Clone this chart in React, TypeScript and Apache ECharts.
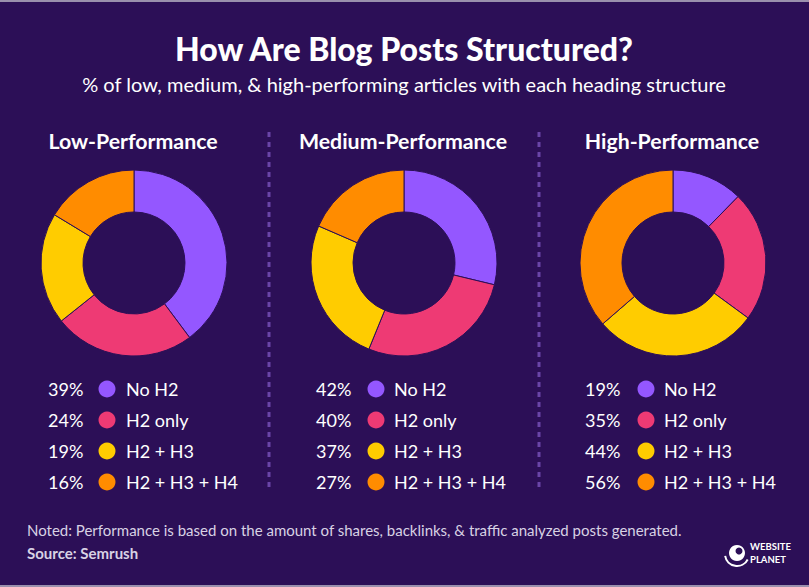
import React, { useEffect, useRef } from "react";
import * as echarts from "echarts";

const categories = ["No H2", "H2 only", "H2 + H3", "H2 + H3 + H4"];
const groups = ["Low-Performance", "Medium-Performance", "High-Performance"];
const lowValues = [39, 24, 19, 16];
const mediumValues = [42, 40, 37, 27];
const highValues = [19, 35, 44, 56];
const colors = ["#9457ff", "#ee3a74", "#ffcc00", "#ff8c00"];

const title = "How Are Blog Posts Structured?";
const subtitle = "% of low, medium, & high-performing articles with each heading structure";
const note = "Noted: Performance is based on the amount of shares, backlinks, & traffic analyzed posts generated.";
const source = "Source: Semrush";

const BG = "#2c0f57";
const FONT = "Lato, 'Noto Sans', sans-serif";

export default function App() {
  const ref = useRef<HTMLDivElement>(null);
  useEffect(() => {
    if (!ref.current) return;
    const chart = echarts.init(ref.current, undefined, { renderer: "svg" });
    const allValues = [lowValues, mediumValues, highValues];
    const centersX = [134, 404, 673];
    const legendX = [
      { pct: 48, dot: 107, label: 126 },
      { pct: 316, dot: 376, label: 394 },
      { pct: 585, dot: 646, label: 664 },
    ];
    const rowY = [389, 420, 451, 482];

    const series: any[] = allValues.map((vals, gi) => ({
      type: "pie",
      center: [centersX[gi], 263],
      radius: [51, 93],
      startAngle: 90,
      clockwise: true,
      silent: true,
      label: { show: false },
      labelLine: { show: false },
      itemStyle: { borderColor: BG, borderWidth: 1 },
      data: vals.map((v, i) => ({ name: categories[i], value: v, itemStyle: { color: colors[i] } })),
    }));

    const graphics: any[] = [
      { type: "rect", shape: { x: 0, y: 0, width: 809, height: 2 }, style: { fill: "#9a90ad" } },
      { type: "rect", shape: { x: 0, y: 585, width: 809, height: 2 }, style: { fill: "#9a90ad" } },
      {
        type: "text", x: 404, y: 48,
        style: { text: title, fill: "#ffffff", font: `900 32px ${FONT}`, align: "center", verticalAlign: "middle" },
      },
      {
        type: "text", x: 404, y: 84,
        style: { text: subtitle, fill: "#ffffff", font: `400 20px ${FONT}`, align: "center", verticalAlign: "middle" },
      },
      {
        type: "text", x: 27, y: 530,
        style: { text: note, fill: "#d8d2e4", font: `400 15px ${FONT}`, align: "left", verticalAlign: "middle" },
      },
      {
        type: "text", x: 27, y: 553,
        style: { text: source, fill: "#d8d2e4", font: `700 15px ${FONT}`, align: "left", verticalAlign: "middle" },
      },
    ];

    [269, 539].forEach((x) => {
      graphics.push({
        type: "line",
        shape: { x1: x, y1: 132, x2: x, y2: 492 },
        style: { stroke: "#6a45a8", lineWidth: 3, lineDash: [5, 5] },
      });
    });

    groups.forEach((g, gi) => {
      graphics.push({
        type: "text", x: centersX[gi] - 1, y: 141,
        style: { text: g, fill: "#ffffff", font: `700 21.3px ${FONT}`, align: "center", verticalAlign: "middle" },
      });
      allValues[gi].forEach((v, i) => {
        const lx = legendX[gi];
        graphics.push({
          type: "text", x: lx.pct, y: rowY[i],
          style: { text: `${v}%`, fill: "#ffffff", font: `400 18px ${FONT}`, align: "left", verticalAlign: "middle" },
        });
        graphics.push({
          type: "circle", shape: { cx: lx.dot, cy: rowY[i], r: 8.5 },
          style: { fill: colors[i] },
        });
        graphics.push({
          type: "text", x: lx.label, y: rowY[i],
          style: { text: categories[i], fill: "#ffffff", font: `400 18px ${FONT}`, align: "left", verticalAlign: "middle" },
        });
      });
    });

    // logo
    graphics.push(
      { type: "circle", shape: { cx: 737, cy: 553, r: 8 }, style: { fill: "#ffffff" } },
      { type: "circle", shape: { cx: 739, cy: 551, r: 3.5 }, style: { fill: BG } },
      {
        type: "arc", shape: { cx: 737, cy: 554, r: 12, startAngle: Math.PI * 0.15, endAngle: Math.PI * 0.95 },
        style: { stroke: "#ffffff", lineWidth: 2, fill: "none" },
      },
      {
        type: "text", x: 750, y: 546,
        style: { text: "WEBSITE", fill: "#ffffff", font: `700 9.5px ${FONT}`, align: "left", verticalAlign: "middle" },
      },
      {
        type: "text", x: 750, y: 559,
        style: { text: "PLANET", fill: "#ffffff", font: `700 9.5px ${FONT}`, align: "left", verticalAlign: "middle" },
      }
    );

    chart.setOption({
      animation: false,
      backgroundColor: BG,
      series,
      graphic: graphics,
    });
    return () => chart.dispose();
  }, []);
  return (
    <div
      ref={ref}
      style={{ position: "fixed", left: 0, top: 0, width: 809, height: 587 }}
    />
  );
}
